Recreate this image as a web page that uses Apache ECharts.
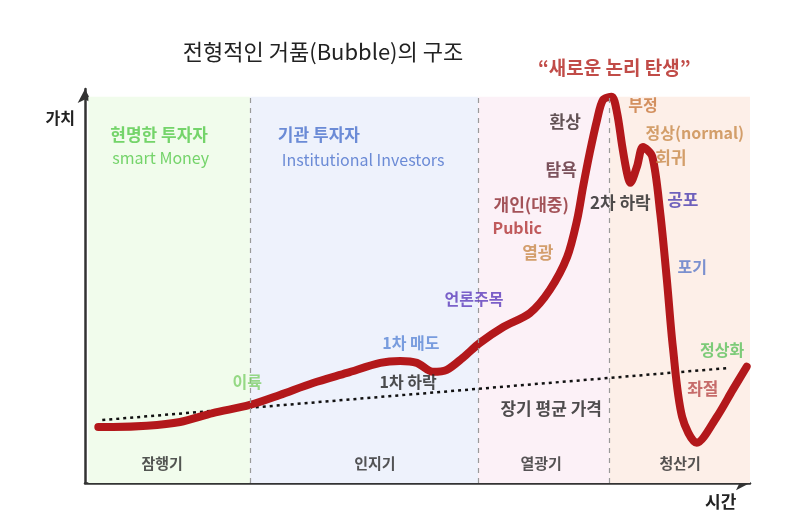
<!DOCTYPE html>
<html>
<head>
<meta charset="utf-8">
<script src="https://cdn.jsdelivr.net/npm/echarts@6/dist/echarts.min.js"></script>
<style>
  html, body { margin: 0; padding: 0; background: #fff; }
  #main { width: 800px; height: 531px; }
</style>
</head>
<body>
<div id="main"></div>
<script>
// 시간(0~100) / 가치(0~100) 축 위의 값
var bubbleX = [2.0, 4.2, 9.3, 14.3, 19.2, 24.8, 29.3, 34.3, 39.4, 44.4, 47.4, 49.9, 52.3, 54.4, 56.8,
  59.4, 62.9, 66.9, 69.9, 72.5, 74.0, 74.9, 75.9, 77.0, 77.9, 79.2, 80.0, 80.8, 81.5, 82.0,
  83.0, 83.9, 85.3, 86.5, 87.5, 88.4, 89.8, 92.0, 95.0, 97.4, 99.5];
var bubbleY = [14.5, 14.5, 14.8, 15.8, 18.1, 20.2, 22.8, 25.9, 28.5, 31.1, 31.6, 31.1, 28.8, 29.3, 32.4,
  36.3, 40.4, 44.0, 50.0, 58.5, 68.1, 76.7, 85.5, 94.0, 99.2, 100.0, 95.9, 87.0, 80.3, 77.7,
  81.9, 87.0, 84.5, 69.9, 52.6, 35.2, 17.1, 10.4, 17.1, 24.1, 30.1];

// 장기 평균 가격 (점선)
var trendX = [2.6, 97.0];
var trendY = [16.3, 29.8];

// 국면 구분
var phaseNames = ['잠행기', '인지기', '열광기', '청산기'];
var phaseEdges = [0.5, 24.8, 59.1, 78.9, 100];
var phaseLabelX = [11.6, 43.6, 68.6, 89.5];
var phaseLabelY = 5.2;
var phaseColors = ['#f1fcec', '#eef2fc', '#fcf1f7', '#fdefe8'];

// 주석 텍스트와 위치
var noteTexts = ['현명한 투자자', 'smart Money', '기관 투자자', 'Institutional Investors',
  '환상', '탐욕', '개인(대중)', 'Public', '열광', '2차 하락', '부정', '정상(normal)', '회귀',
  '공포', '포기', '언론주목', '1차 매도', '1차 하락', '이륙', '장기 평균 가격', '정상화', '좌절',
  '“새로운 논리 탄생”'];
var noteX = [3.8, 4.1, 29.0, 29.6, 72.2, 71.6, 67.1, 65.0, 68.1, 80.5, 83.9, 91.7, 88.1,
  89.9, 91.3, 58.5, 49.0, 48.6, 24.4, 70.1, 95.8, 92.9, 79.6];
var noteY = [90.2, 84.2, 90.2, 83.7, 93.5, 81.1, 72.0, 66.1, 59.6, 72.5, 98.0, 90.7, 84.2,
  73.3, 56.0, 47.7, 36.3, 26.2, 26.2, 19.4, 34.5, 24.4, 107.5];
var noteColors = ['#55c94a', '#55c94a', '#4a70cc', '#4a70cc', '#3b2a2c', '#5a2a35', '#8c2a30',
  '#b03535', '#c88a4a', '#222', '#c8783c', '#c88a4a', '#c88a4a', '#4a3cb0', '#5a78c8',
  '#5b3bbb', '#5a86d6', '#222', '#7ed06a', '#222', '#5cc25c', '#b84a4a', '#b11f1a'];
var noteSizes = [17, 16, 17, 16, 17, 17, 17, 16, 17, 17, 16, 16, 17,
  17, 16, 16, 16, 16, 16, 17, 16, 17, 19];

var myChart = echarts.init(document.getElementById('main'));
var FONT = '"Noto Sans CJK KR", "Noto Sans", sans-serif';

var curveData = bubbleX.map(function (x, i) { return [x, bubbleY[i]]; });
var trendData = trendX.map(function (x, i) { return [x, trendY[i]]; });

var areas = [];
var sepLines = [];
var phaseData = [];
for (var i = 0; i < phaseNames.length; i++) {
  areas.push([
    { xAxis: phaseEdges[i], yAxis: 0, itemStyle: { color: phaseColors[i] } },
    { xAxis: phaseEdges[i + 1], yAxis: 100 }
  ]);
  if (i > 0) {
    sepLines.push([{ coord: [phaseEdges[i], 0] }, { coord: [phaseEdges[i], 100] }]);
  }
  phaseData.push({ value: [phaseLabelX[i], phaseLabelY], name: phaseNames[i] });
}

var noteData = noteTexts.map(function (t, i) {
  var left = i < 4;
  var latin = (i === 1 || i === 3);
  return {
    value: [noteX[i], noteY[i]],
    name: t,
    label: {
      color: noteColors[i],
      align: left ? 'left' : 'center',
      fontSize: noteSizes[i],
      fontWeight: latin ? 'normal' : 'bold'
    }
  };
});

var option = {
  animation: false,
  backgroundColor: '#fff',
  title: {
    text: '전형적인 거품(Bubble)의 구조',
    left: 318,
    top: 36,
    textAlign: 'center',
    textStyle: { fontFamily: FONT, fontSize: 22, fontWeight: 'normal', color: '#222' }
  },
  grid: { left: 85, right: 50, top: 89, bottom: 48 },
  xAxis: {
    type: 'value', min: 0, max: 100,
    name: '시간', nameLocation: 'end', nameGap: -45,
    nameTextStyle: { fontFamily: FONT, fontSize: 17, fontWeight: 'bold', color: '#222',
      verticalAlign: 'top', padding: [10, 0, 0, 0] },
    axisLine: { lineStyle: { color: '#333', width: 2.5 }, symbol: ['none', 'arrow'], symbolSize: [11, 14] },
    axisTick: { show: false }, axisLabel: { show: false }, splitLine: { show: false }
  },
  yAxis: {
    type: 'value', min: 0, max: 102,
    name: '가치', nameLocation: 'end', nameGap: -37,
    nameTextStyle: { fontFamily: FONT, fontSize: 16, fontWeight: 'bold', color: '#222',
      align: 'right', padding: [0, 10, 0, 0] },
    axisLine: { lineStyle: { color: '#333', width: 2.5 }, symbol: ['none', 'arrow'], symbolSize: [11, 14] },
    axisTick: { show: false }, axisLabel: { show: false }, splitLine: { show: false }
  },
  series: [
    {
      name: 'trend',
      type: 'line',
      data: trendData,
      symbol: 'none',
      z: 3,
      lineStyle: { color: '#111', width: 2.5, type: [3, 4] },
      markArea: { silent: true, data: areas },
      markLine: {
        silent: true, symbol: 'none', label: { show: false },
        lineStyle: { color: '#9a9a9a', width: 1.2, type: [5, 5] },
        data: sepLines
      }
    },
    {
      name: 'bubble',
      type: 'line',
      data: curveData,
      smooth: 0.3,
      symbol: 'none',
      z: 4,
      lineStyle: { color: '#b3181b', width: 8, cap: 'round', join: 'round' }
    },
    {
      name: 'phases',
      type: 'scatter',
      data: phaseData,
      symbolSize: 0,
      z: 5,
      label: { show: true, position: 'inside', formatter: '{b}',
        fontFamily: FONT, fontSize: 15, fontWeight: 'bold', color: '#2a2a2a' }
    },
    {
      name: 'notes',
      type: 'scatter',
      data: noteData,
      symbolSize: 0,
      clip: false,
      z: 6,
      label: { show: true, position: 'inside', formatter: '{b}', fontFamily: FONT }
    }
  ]
};

myChart.setOption(option);
</script>
</body>
</html>
